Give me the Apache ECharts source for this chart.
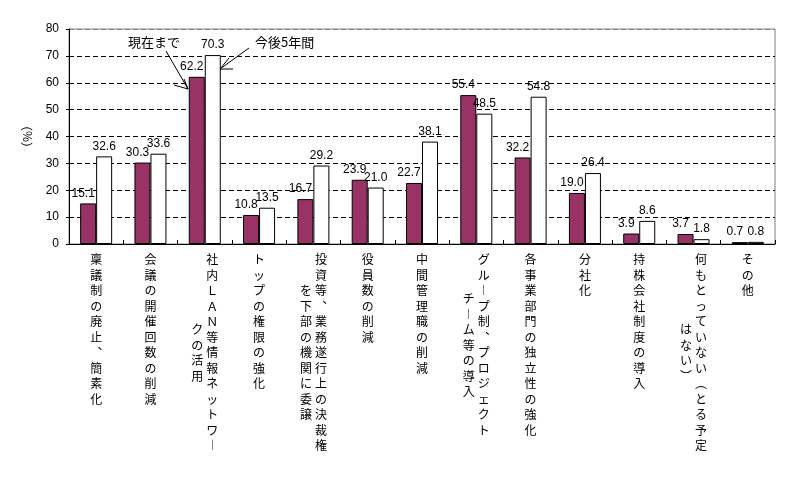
<!DOCTYPE html>
<html>
<head>
<meta charset="utf-8">
<script src="https://cdn.jsdelivr.net/npm/echarts@6/dist/echarts.min.js"></script>
<style>
  html, body { margin: 0; padding: 0; background: #fff; }
  #chart { width: 793px; height: 482px; }
</style>
</head>
<body>
<div id="chart"></div>
<script>
// カテゴリ（"\n" の後ろは左側の2列目）
var categories = [
  '稟議制の廃止、簡素化',
  '会議の開催回数の削減',
  '社内ＬＡＮ等情報ネットワー\nクの活用',
  'トップの権限の強化',
  '投資等、業務遂行上の決裁権\nを下部の機関に委譲',
  '役員数の削減',
  '中間管理職の削減',
  'グループ制、プロジェクト\nチーム等の導入',
  '各事業部門の独立性の強化',
  '分社化',
  '持株会社制度の導入',
  '何もとっていない（とる予定\nはない）',
  'その他'
];
var untilNow = [15.1, 30.3, 62.2, 10.8, 16.7, 23.9, 22.7, 55.4, 32.2, 19.0, 3.9, 3.7, 0.7];
var next5Years = [32.6, 33.6, 70.3, 13.5, 29.2, 21.0, 38.1, 48.5, 54.8, 26.4, 8.6, 1.8, 0.8];
var seriesNames = ['現在まで', '今後5年間'];

var FONT = '"Noto Sans CJK JP", sans-serif';
var NUMFONT = '"Liberation Sans", Arial, sans-serif';
var LH = 7.75; // 半行の高さ（1文字 = 2半行）

// 縦書き用の字形に置き換え
function toVertical(s) {
  return s.replace(/、/g, '︑').replace(/ー/g, '︱')
          .replace(/（/g, '︵').replace(/）/g, '︶');
}

function verticalLabel(val) {
  var parts = val.split('\n');
  var R = Array.from(toVertical(parts[0]));
  var L = parts[1] ? Array.from(toVertical(parts[1])) : [];
  var two = L.length > 0;
  var off = R.length - L.length; // 左列を中央揃えにするための半行オフセット
  var n = Math.max(2 * R.length, off + 2 * L.length);
  var lines = [];
  for (var h = 0; h < n; h++) {
    var r = (h % 2 === 0) ? R[h / 2] : null;
    var l = (two && h >= off && (h - off) % 2 === 0) ? L[(h - off) / 2] : null;
    if (two) {
      lines.push('{l|' + (l || '　') + '}{r|' + (r || '　') + '}');
    } else {
      lines.push('{c|' + (r || '　') + '}');
    }
  }
  return lines.join('\n');
}

var colStyle = { width: 15, align: 'center', lineHeight: LH, fontSize: 12, fontFamily: FONT, color: '#000' };

var chart = echarts.init(document.getElementById('chart'));

chart.setOption({
  animation: false,
  backgroundColor: '#fff',
  grid: {
    left: 69,
    right: 18,
    top: 29,
    bottom: 238,
    show: true,
    borderColor: '#808080',
    borderWidth: 1,
    outerBoundsMode: 'none'
  },
  xAxis: {
    type: 'category',
    data: categories,
    axisLine: { lineStyle: { color: '#000', width: 1 } },
    axisTick: { show: true, inside: true, length: 4, interval: 0, lineStyle: { color: '#000' } },
    axisLabel: {
      interval: 0,
      margin: 12,
      align: 'center',
      verticalAlign: 'top',
      lineHeight: LH,
      formatter: verticalLabel,
      rich: { l: colStyle, r: colStyle, c: colStyle }
    }
  },
  yAxis: {
    type: 'value',
    min: 0,
    max: 80,
    interval: 10,
    name: '（%）',
    nameLocation: 'middle',
    nameGap: 36,
    nameTextStyle: { fontSize: 12, fontFamily: FONT, color: '#000' },
    axisLine: { show: true, lineStyle: { color: '#000', width: 1 } },
    axisTick: { show: true, length: 3, lineStyle: { color: '#000' } },
    axisLabel: { fontSize: 12, fontFamily: NUMFONT, color: '#000', margin: 10 },
    splitLine: {
      show: true,
      lineStyle: {
        type: [5, 3],
        width: 1,
        color: ['transparent', '#000', '#000', '#000', '#000', '#000', '#000', '#000', '#808080']
      }
    }
  },
  series: [
    {
      name: seriesNames[0],
      type: 'bar',
      data: untilNow,
      barWidth: 16,
      barGap: '0%',
      itemStyle: { color: '#993366', borderColor: '#000', borderWidth: 1 },
      label: {
        show: true,
        position: 'top',
        distance: 4,
        offset: [-5, 0],
        fontSize: 12,
        fontFamily: NUMFONT,
        color: '#000',
        formatter: function (p) { return p.value.toFixed(1); }
      }
    },
    {
      name: seriesNames[1],
      type: 'bar',
      data: next5Years,
      barWidth: 16,
      itemStyle: { color: '#fff', borderColor: '#000', borderWidth: 1 },
      label: {
        show: true,
        position: 'top',
        distance: 4,
        fontSize: 12,
        fontFamily: NUMFONT,
        color: '#000',
        formatter: function (p) { return p.value.toFixed(1); }
      }
    }
  ],
  graphic: [
    {
      type: 'text', left: 128, top: 36,
      style: { text: seriesNames[0], fontSize: 13, fontFamily: FONT, fill: '#000' }
    },
    {
      type: 'text', left: 255, top: 36,
      style: { text: seriesNames[1], fontSize: 13, fontFamily: FONT, fill: '#000' }
    },
    // 矢印（現在まで）
    { type: 'polyline', shape: { points: [[166, 51], [188, 89]] }, style: { stroke: '#000', lineWidth: 1, fill: null } },
    { type: 'polyline', shape: { points: [[174, 85], [188, 89], [184, 79]] }, style: { stroke: '#000', lineWidth: 1, fill: null } },
    // 矢印（今後5年間）
    { type: 'polyline', shape: { points: [[249, 48], [220, 69]] }, style: { stroke: '#000', lineWidth: 1, fill: null } },
    { type: 'polyline', shape: { points: [[233, 69], [220, 69], [229, 58]] }, style: { stroke: '#000', lineWidth: 1, fill: null } }
  ]
});
</script>
</body>
</html>
